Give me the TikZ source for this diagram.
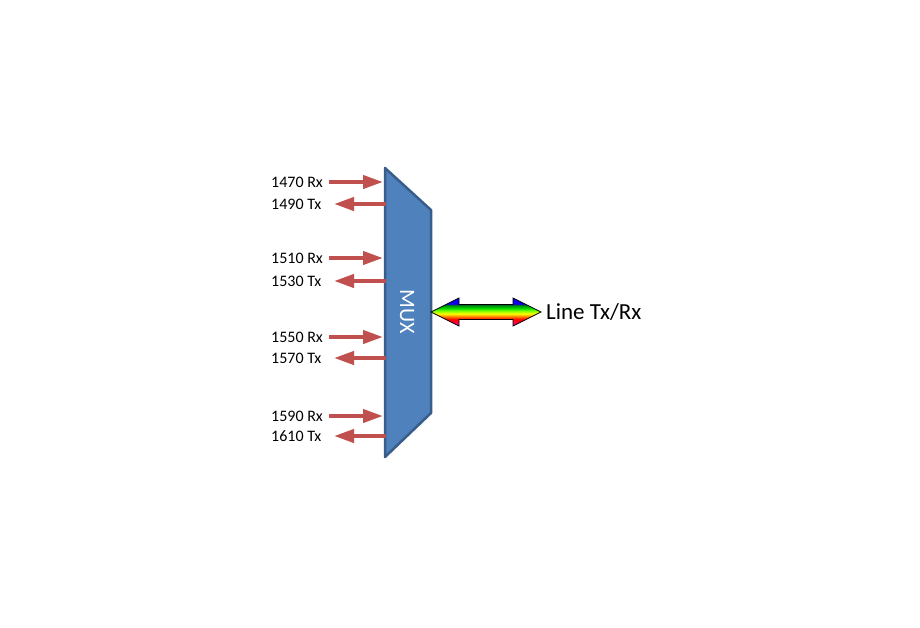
\documentclass[tikz,border=0pt]{standalone}
\usepackage{fontspec}
\setmainfont{Carlito}
\usetikzlibrary{arrows.meta}
\definecolor{muxfill}{HTML}{4F81BD}
\definecolor{muxline}{HTML}{385D8A}
\definecolor{redarrow}{HTML}{C0504D}
\pgfdeclareverticalshading{rainbow}{100bp}{
  color(0bp)=(magenta!85!red);
  color(25bp)=(magenta!85!red);
  color(32bp)=(red!80!magenta);
  color(37bp)=(red);
  color(42bp)=(orange);
  color(47bp)=(yellow);
  color(52bp)=(yellow!50!green);
  color(57bp)=(green!85!black);
  color(61bp)=(green!60!black);
  color(63.5bp)=(teal!60!black);
  color(64.5bp)=(blue!85!violet);
  color(75bp)=(blue);
  color(100bp)=(blue)}
\tikzset{
  lbl/.style={anchor=west, inner sep=0pt, font=\fontsize{16}{19}\selectfont},
  redarr/.style={draw=redarrow, line width=4pt, -{Triangle[length=20pt,width=13pt]}},
  muxshape/.style={fill=muxfill, draw=muxline, line width=2.5pt, line join=round},
}
\begin{document}
\begin{tikzpicture}[x=1pt,y=-1pt]
\useasboundingbox (0,0) rectangle (920,627);
% MUX
\draw[muxshape] (385,168) -- (431,210) -- (431,413) -- (385,457) -- cycle;
\node[white, rotate=-90, font=\fontsize{22}{26}\selectfont, inner sep=0pt] (mux) at (407,312) {MUX};
% port coordinates
\foreach \n/\y in {a/182,c/258,e/337,g/416}{
  \coordinate (rxs\n) at (329,\y);
  \coordinate (rxe\n) at (383,\y);
}
\foreach \n/\y in {b/204,d/281,f/358,h/436}{
  \coordinate (txs\n) at (386,\y);
  \coordinate (txe\n) at (334,\y);
}
\node[lbl] (la) at (271,182) {1470 Rx};
\node[lbl] (lb) at (271,204) {1490 Tx};
\node[lbl] (lc) at (271,258) {1510 Rx};
\node[lbl] (ld) at (271,281) {1530 Tx};
\node[lbl] (le) at (271,337) {1550 Rx};
\node[lbl] (lf) at (271,358) {1570 Tx};
\node[lbl] (lg) at (271,416) {1590 Rx};
\node[lbl] (lh) at (271,436) {1610 Tx};
\foreach \n in {a,c,e,g}{ \draw[redarr] (rxs\n) -- (rxe\n); }
\foreach \n in {b,d,f,h}{ \draw[redarr] (txs\n) -- (txe\n); }
% rainbow double arrow
\draw[shading=rainbow, draw=black, line width=0.8pt, line join=miter]
  (431,312) -- (459,298) -- (459,304.5) -- (513,304.5) -- (513,298) -- (541,312)
  -- (513,326) -- (513,319.5) -- (459,319.5) -- (459,326) -- cycle;
\node[anchor=west, inner sep=0pt, font=\fontsize{23}{27}\selectfont] (line) at (546,312) {Line Tx/Rx};
\end{tikzpicture}
\end{document}
